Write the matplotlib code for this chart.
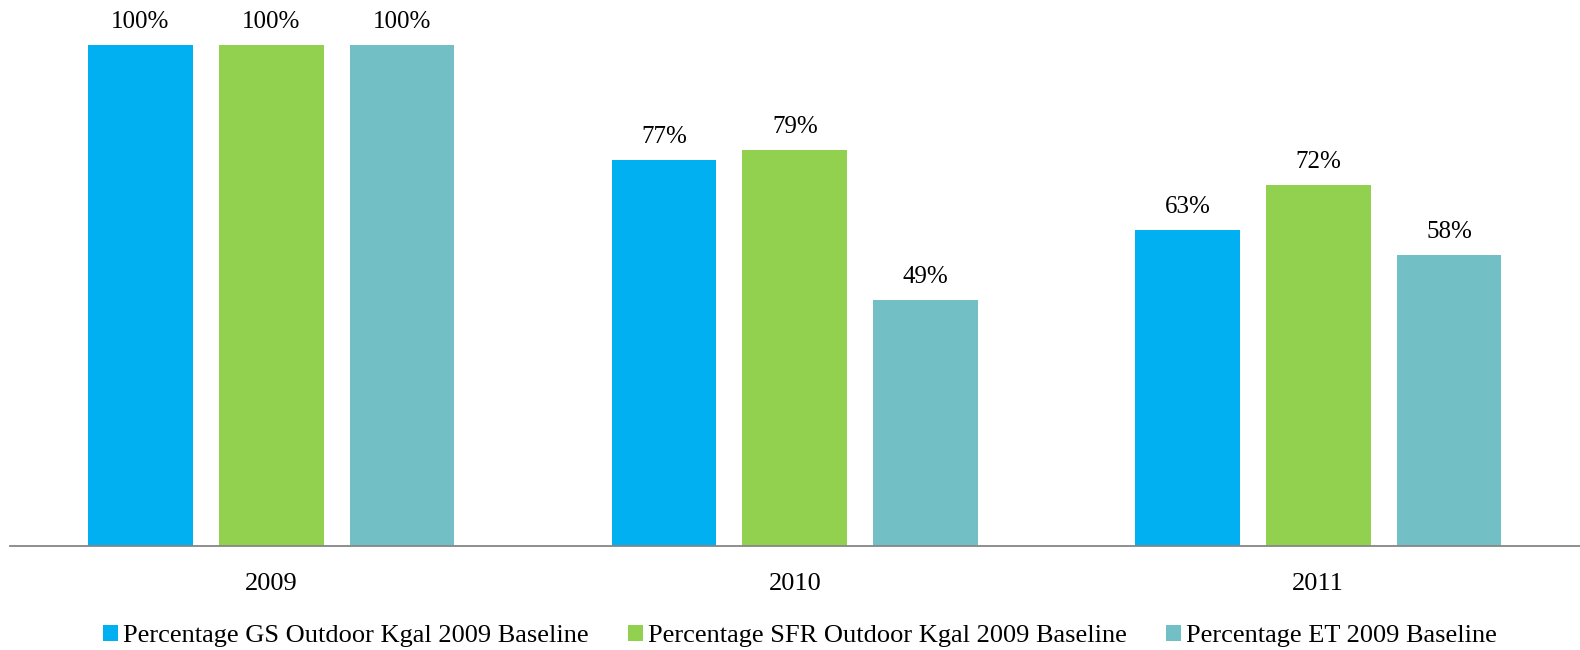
import matplotlib.pyplot as plt
import numpy as np
from matplotlib.patches import Patch

plt.rcParams['font.family'] = ['Liberation Serif', 'DejaVu Serif']

years = ['2009', '2010', '2011']
series_names = ['Percentage GS Outdoor Kgal 2009 Baseline',
                'Percentage SFR Outdoor Kgal 2009 Baseline',
                'Percentage ET 2009 Baseline']
gs = [1.00, 0.77, 0.63]
sfr = [1.00, 0.79, 0.72]
et = [1.00, 0.49, 0.58]
colors = ['#00B0F0', '#92D050', '#72BFC5']

fig = plt.figure(figsize=(15.8, 6.5), dpi=100)
# axes placed in figure fractions (baseline at ~546 px from top)
ax = fig.add_axes([9.5 / 1580, (650 - 545.7) / 650, 1 - 9.5 / 1580, 545.7 / 650])

x = np.arange(len(years))
width = 0.2
offsets = [-0.25, 0, 0.25]

for vals, off, col in zip([gs, sfr, et], offsets, colors):
    bars = ax.bar(x + off, vals, width, color=col)
    for b, v in zip(bars, vals):
        ax.annotate(f'{v * 100:.0f}%', (b.get_x() + b.get_width() / 2, v),
                    xytext=(0, 9), textcoords='offset points',
                    ha='center', va='bottom', fontsize=18)

ax.set_xlim(-0.5, 2.5)
ax.set_ylim(0, 1.0 * 545.7 / 500.7)
ax.set_xticks(x)
ax.set_xticklabels(years, fontsize=19)
ax.tick_params(axis='x', length=0, pad=20)
ax.set_yticks([])
for s in ['top', 'right', 'left']:
    ax.spines[s].set_visible(False)
ax.spines['bottom'].set_color('#868686')
ax.spines['bottom'].set_linewidth(1.3)

handles = [Patch(facecolor=c, label=n) for c, n in zip(colors, series_names)]
fig.legend(handles=handles, loc='center', bbox_to_anchor=(800 / 1580, 1 - 636 / 650),
           ncol=3, frameon=False, fontsize=19, handlelength=0.55, handleheight=0.55,
           handletextpad=0.2, columnspacing=1.5)

fig.savefig('out.png', dpi=100)
